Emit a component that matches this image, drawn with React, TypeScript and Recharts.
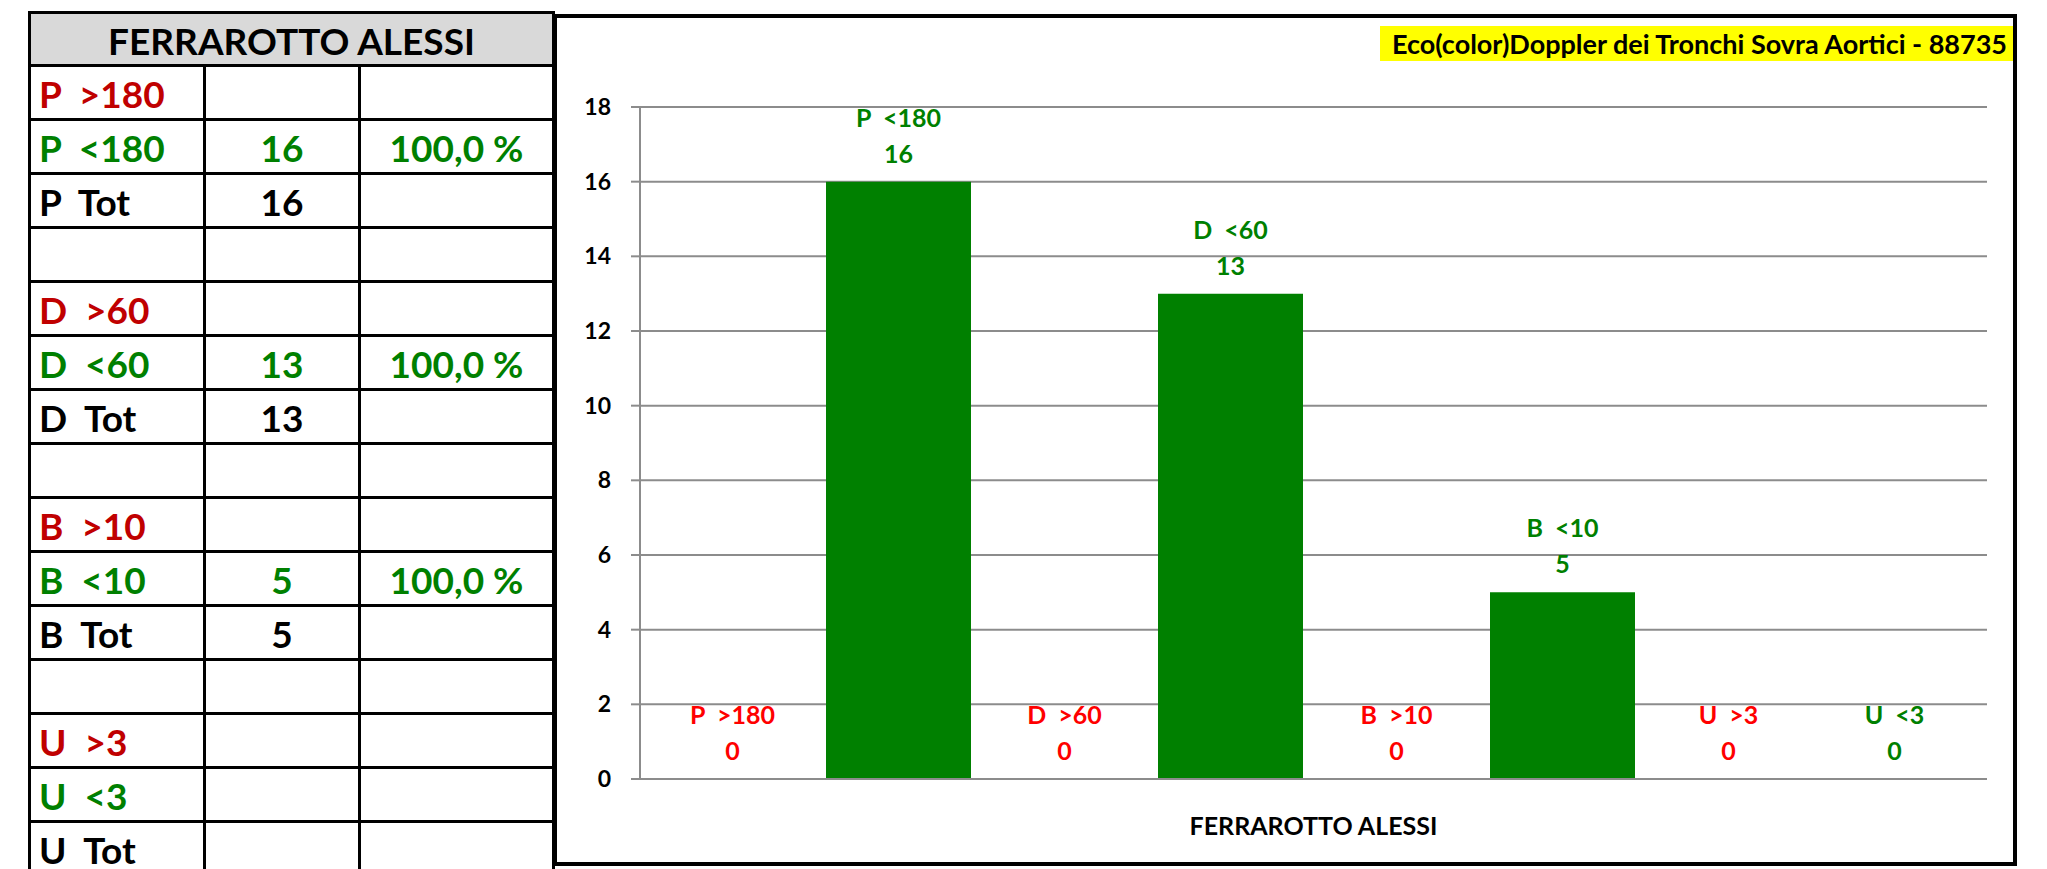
import React from "react";
import { BarChart, Bar, XAxis, YAxis, CartesianGrid, LabelList } from "recharts";

const PATIENT = "FERRAROTTO ALESSI";
const EXAM_TITLE = "Eco(color)Doppler dei Tronchi Sovra Aortici - 88735";

// chart series (one bar each, single category)
const SERIES_KEYS = ["p_hi", "p_lo", "d_hi", "d_lo", "b_hi", "b_lo", "u_hi", "u_lo"];
const SERIES_NAMES = ["P  >180", "P  <180", "D  >60", "D  <60", "B  >10", "B  <10", "U  >3", "U  <3"];
const SERIES_VALUES = [0, 16, 0, 13, 0, 5, 0, 0];
const Y_TICKS = [0, 2, 4, 6, 8, 10, 12, 14, 16, 18];

// side table
const ROW_LABELS = ["P  >180", "P  <180", "P  Tot", "", "D  >60", "D  <60", "D  Tot", "", "B  >10", "B  <10", "B  Tot", "", "U  >3", "U  <3", "U  Tot"];
const ROW_COUNTS = ["", "16", "16", "", "", "13", "13", "", "", "5", "5", "", "", "", ""];
const ROW_PCTS = ["", "100,0 %", "", "", "", "100,0 %", "", "", "", "100,0 %", "", "", "", "", ""];

const FONT = "Lato, 'Open Sans', sans-serif";
const GREEN = "#008000";
const RED_TABLE = "#c00000";
const RED_CHART = "#ff0000";
const GRID = "#8c8c8c";

const chartData = [
  SERIES_KEYS.reduce(
    (row: any, key, i) => {
      row[key] = SERIES_VALUES[i];
      return row;
    },
    { name: PATIENT }
  ),
];

function rowColor(label: string) {
  if (label.includes(">")) return RED_TABLE;
  if (label.includes("<")) return GREEN;
  return "#000";
}

const makeLabel = (name: string, color: string) => (props: any) => {
  const x = Number(props.x);
  const y = Number(props.y);
  const w = Number(props.width);
  const cx = x + w / 2;
  const style = { whiteSpace: "pre" as const };
  return (
    <g>
      <text x={cx} y={y - 55} textAnchor="middle" fill={color} fontSize={25} fontWeight={700} fontFamily={FONT} style={style}>
        {name}
      </text>
      <text x={cx} y={y - 19} textAnchor="middle" fill={color} fontSize={25} fontWeight={700} fontFamily={FONT}>
        {props.value}
      </text>
    </g>
  );
};

const TABLE_LEFT = 28;
const TABLE_TOP = 11;
const HEADER_H = 53;
const ROW_H = 54;
const COL_X = [28, 203, 358, 552];
const B = 3;

const cellBase: React.CSSProperties = {
  position: "absolute",
  boxSizing: "border-box",
  border: `${B}px solid #000`,
  display: "flex",
  alignItems: "center",
  fontFamily: FONT,
  fontWeight: 700,
  fontSize: 37,
  whiteSpace: "pre",
  paddingTop: 2,
};

const SideTable: React.FC = () => {
  const cells: React.ReactNode[] = [];
  ROW_LABELS.forEach((label, i) => {
    const top = TABLE_TOP + HEADER_H + i * ROW_H;
    const color = rowColor(label);
    const texts = [label, ROW_COUNTS[i], ROW_PCTS[i]];
    for (let c = 0; c < 3; c++) {
      cells.push(
        <div
          key={`${i}-${c}`}
          style={{
            ...cellBase,
            left: COL_X[c],
            top,
            width: COL_X[c + 1] - COL_X[c] + B,
            height: ROW_H + B,
            justifyContent: c === 0 ? "flex-start" : "center",
            paddingLeft: c === 0 ? 8 : 0,
            color: color,
          }}
        >
          {texts[c]}
        </div>
      );
    }
  });
  return (
    <>
      <div
        style={{
          ...cellBase,
          left: TABLE_LEFT,
          top: TABLE_TOP,
          width: COL_X[3] - COL_X[0] + B,
          height: HEADER_H + B,
          justifyContent: "center",
          background: "#d9d9d9",
          color: "#000",
        }}
      >
        {PATIENT}
      </div>
      {cells}
    </>
  );
};

const FRAME = { left: 553, top: 14, width: 1464, height: 852 };

export default function App() {
  return (
    <div style={{ position: "absolute", left: 0, top: 0, width: 2047, height: 869, overflow: "hidden", background: "#fff" }}>
      <SideTable />
      <div
        style={{
          position: "absolute",
          left: FRAME.left,
          top: FRAME.top,
          width: FRAME.width,
          height: FRAME.height,
          border: "4px solid #000",
          boxSizing: "border-box",
        }}
      />
      <div style={{ position: "absolute", left: FRAME.left, top: FRAME.top }}>
        <BarChart
          width={FRAME.width}
          height={FRAME.height}
          data={chartData}
          margin={{ top: 93, right: 30, left: 0, bottom: 0 }}
          barSize={145}
          barGap={21}
        >
          <CartesianGrid xAxisId="cat" vertical={false} stroke={GRID} strokeWidth={2} />
          <XAxis
            xAxisId="edge"
            type="number"
            domain={[0, 1]}
            ticks={[0, 1]}
            tick={false}
            axisLine={false}
            tickLine={{ stroke: GRID, strokeWidth: 2 }}
            tickSize={9}
            height={0}
          />
          <XAxis
            xAxisId="cat"
            dataKey="name"
            height={87}
            axisLine={{ stroke: GRID, strokeWidth: 2 }}
            tickLine={false}
            tickSize={8}
            tickMargin={30}
            tick={{ fill: "#000", fontSize: 25, fontWeight: 700, fontFamily: FONT }}
          />
          <YAxis
            width={87}
            domain={[0, 18]}
            ticks={Y_TICKS}
            interval={0}
            axisLine={{ stroke: GRID, strokeWidth: 2 }}
            tickLine={{ stroke: GRID, strokeWidth: 2 }}
            tickSize={9}
            tickMargin={20}
            tick={{ fill: "#000", fontSize: 23, fontWeight: 700, fontFamily: FONT }}
          />
          {SERIES_KEYS.map((key, i) => {
            const color = SERIES_NAMES[i].includes(">") ? RED_CHART : GREEN;
            return (
              <Bar key={key} xAxisId="cat" dataKey={key} fill={GREEN} minPointSize={0.01} isAnimationActive={false}>
                <LabelList dataKey={key} content={makeLabel(SERIES_NAMES[i], color)} />
              </Bar>
            );
          })}
        </BarChart>
      </div>
      <div
        style={{
          position: "absolute",
          left: 1380,
          top: 26,
          width: 633,
          height: 35,
          background: "#ffff00",
          display: "flex",
          alignItems: "center",
          justifyContent: "flex-end",
          paddingRight: 6,
          boxSizing: "border-box",
          fontFamily: FONT,
          fontWeight: 700,
          fontSize: 27,
          color: "#000",
          whiteSpace: "pre",
        }}
      >
        {EXAM_TITLE}
      </div>
    </div>
  );
}
